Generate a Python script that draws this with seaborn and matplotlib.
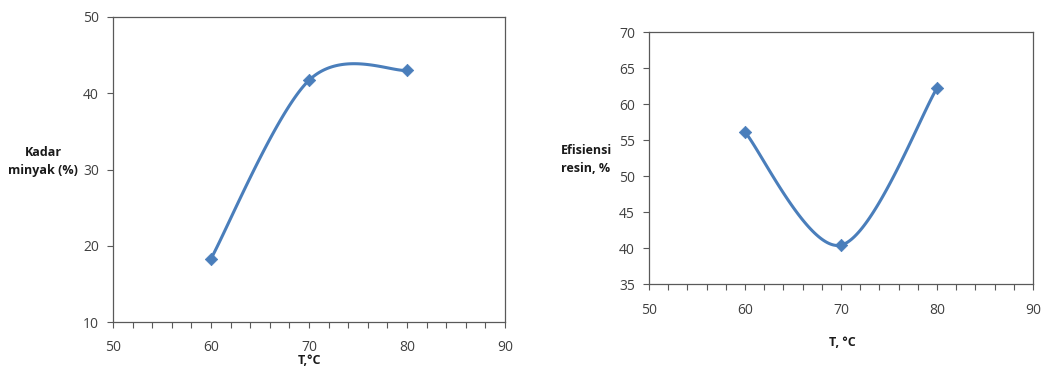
import numpy as np
import matplotlib
matplotlib.use("Agg")
import matplotlib.pyplot as plt
from matplotlib.ticker import MultipleLocator
import seaborn as sns

# data
temp = [60, 70, 80]
kadar_minyak = [18.3, 41.7, 43.0]
efisiensi_resin = [56.1, 40.4, 62.2]

LINE = "#4a7ebb"
EDGE = "#595959"
TXT = "#404040"


def smooth(x, y, n=60):
    # Excel-style smoothed line: Catmull-Rom segments as cubic Bezier
    x = np.asarray(x, float)
    y = np.asarray(y, float)
    px = np.concatenate([[x[0]], x, [x[-1]]])
    py = np.concatenate([[y[0]], y, [y[-1]]])
    t = np.linspace(0, 1, n)[:, None]
    xs, ys = [], []
    for i in range(1, len(x)):
        p0 = np.array([px[i], py[i]])
        p3 = np.array([px[i + 1], py[i + 1]])
        b1 = p0 + (p3 - np.array([px[i - 1], py[i - 1]])) / 6
        b2 = p3 - (np.array([px[i + 2], py[i + 2]]) - p0) / 6
        pts = (1 - t) ** 3 * p0 + 3 * (1 - t) ** 2 * t * b1 + 3 * (1 - t) * t ** 2 * b2 + t ** 3 * p3
        xs.append(pts[:, 0])
        ys.append(pts[:, 1])
    return np.concatenate(xs), np.concatenate(ys)


sns.set_style("white")
plt.rcParams['font.family'] = ['Open Sans', 'DejaVu Sans']

fig = plt.figure(figsize=(10.44, 3.69), dpi=100)
ax1 = fig.add_axes([113 / 1044, 1 - 322 / 369, 392 / 1044, 305 / 369])
ax2 = fig.add_axes([649 / 1044, 1 - 284 / 369, 384 / 1044, 252 / 369])


def style(ax, ylim, ystep, xpad):
    ax.set_xlim(50, 90)
    ax.set_ylim(*ylim)
    ax.xaxis.set_major_locator(MultipleLocator(10))
    ax.xaxis.set_minor_locator(MultipleLocator(2))
    ax.yaxis.set_major_locator(MultipleLocator(ystep))
    for s in ax.spines.values():
        s.set_color(EDGE)
        s.set_linewidth(0.9)
        s.set_visible(True)
    ax.tick_params(axis="both", which="both", direction="out", color=EDGE,
                   labelcolor=TXT, labelsize=10, width=0.8)
    ax.tick_params(axis="x", which="both", bottom=True, top=False)
    ax.tick_params(axis="y", which="major", left=True, right=False)
    ax.tick_params(axis="x", which="major", length=4, pad=xpad)
    ax.tick_params(axis="x", which="minor", length=4)
    ax.tick_params(axis="y", which="major", length=4, pad=6)
    ax.set_xlabel("")
    ax.set_ylabel("")


for ax, vals, ylim, ystep, xpad in [
    (ax1, kadar_minyak, (10, 50), 10, 9),
    (ax2, efisiensi_resin, (35, 70), 5, 10),
]:
    sx, sy = smooth(temp, vals)
    sns.lineplot(x=sx, y=sy, ax=ax, color=LINE, linewidth=2.2, sort=False, estimator=None)
    sns.scatterplot(x=temp, y=vals, ax=ax, color=LINE, marker="D", s=40,
                    edgecolor=LINE, zorder=3)
    style(ax, ylim, ystep, xpad)

fig.text(43 / 1044, 1 - 161 / 369, "Kadar\nminyak (%)", ha="center", va="center",
         fontsize=9, fontweight="bold", color="#1a1a1a", linespacing=1.5)
fig.text(586 / 1044, 1 - 160 / 369, "Efisiensi\nresin, %", ha="center", va="center",
         fontsize=9, fontweight="bold", color="#1a1a1a", linespacing=1.5)
fig.text(309 / 1044, 1 - 361 / 369, "T,°C", ha="center", va="center",
         fontsize=9, fontweight="bold", color="#1a1a1a")
fig.text(842 / 1044, 1 - 343 / 369, "T, °C", ha="center", va="center",
         fontsize=9, fontweight="bold", color="#1a1a1a")

fig.savefig("out.png", dpi=100)
